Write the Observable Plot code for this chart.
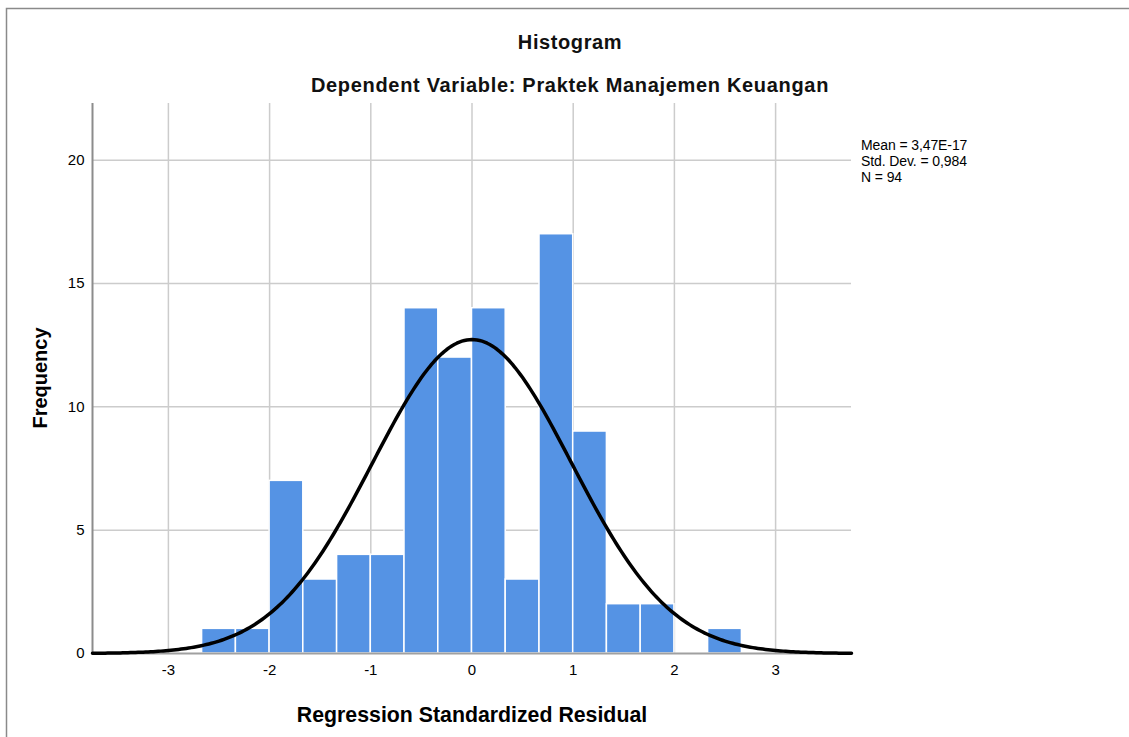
<!DOCTYPE html>
<html>
<head>
<meta charset="utf-8">
<script src="https://cdn.jsdelivr.net/npm/d3@7"></script>
<script src="https://cdn.jsdelivr.net/npm/@observablehq/plot@0.6"></script>
<style>
  html, body { margin: 0; padding: 0; background: #fff; }
  #chart { position: relative; width: 1129px; height: 737px; overflow: hidden; }
  svg text { font-family: "Liberation Sans", Arial, sans-serif; }
</style>
</head>
<body>
<div id="chart"></div>
<script>
// ---- data ----
const binLow  = [-2.667, -2.333, -2.0, -1.667, -1.333, -1.0, -0.667, -0.333, 0.0, 0.333, 0.667, 1.0, 1.333, 1.667, 2.0, 2.333];
const binHigh = [-2.333, -2.0, -1.667, -1.333, -1.0, -0.667, -0.333, 0.0, 0.333, 0.667, 1.0, 1.333, 1.667, 2.0, 2.333, 2.667];
const counts  = [1, 1, 7, 3, 4, 4, 14, 12, 14, 3, 17, 9, 2, 2, 0, 1];
const xTicks = [-3, -2, -1, 0, 1, 2, 3];
const yTicks = [0, 5, 10, 15, 20];
const meanVal = 3.47e-17;
const sdVal = 0.984;
const nVal = 94;
const statLabels = ["Mean = 3,47E-17", "Std. Dev. = 0,984", "N = 94"];
const titleText = "Histogram";
const subtitleText = "Dependent Variable: Praktek Manajemen Keuangan";
const xLabel = "Regression Standardized Residual";
const yLabel = "Frequency";

const bars = counts.map((c, i) => ({x1: binLow[i], x2: binHigh[i], y: c})).filter(d => d.y > 0);

// normal curve implied by the stated mean, sd and N (scaled by bin width)
const binWidth = binHigh[0] - binLow[0];
const xDomain = [-3.75, 3.75];
const curve = d3.range(0, 301).map(i => {
  const x = xDomain[0] + (xDomain[1] - xDomain[0]) * i / 300;
  const z = (x - meanVal) / sdVal;
  return {x, y: nVal * binWidth * Math.exp(-0.5 * z * z) / (sdVal * Math.sqrt(2 * Math.PI))};
});

const W = 1129, H = 737;
const plot = Plot.plot({
  width: W,
  height: H,
  marginLeft: 92,
  marginRight: W - 851,
  marginTop: 103,
  marginBottom: H - 653,
  style: {fontFamily: "Liberation Sans, Arial, sans-serif", fontSize: "15px", color: "#000", background: "#fff"},
  x: {domain: xDomain, label: null},
  y: {domain: [0, 22.3], label: null},
  marks: [
    Plot.ruleX(xTicks, {stroke: "#cccccc", strokeWidth: 1.5}),
    Plot.ruleY(yTicks.filter(d => d > 0), {stroke: "#cccccc", strokeWidth: 1.5}),
    Plot.rectY(bars, {x1: "x1", x2: "x2", y: "y", fill: "#5593e4", stroke: "#ffffff", strokeWidth: 1.5}),
    Plot.ruleY([0], {stroke: "#a0a0a0", strokeWidth: 2}),
    Plot.ruleX([xDomain[0]], {stroke: "#8c8c8c", strokeWidth: 2}),
    Plot.line(curve, {x: "x", y: "y", stroke: "#000", strokeWidth: 3.5}),
    Plot.axisX({ticks: xTicks, tickFormat: d => String(d), tickSize: 0, tickPadding: 11, fontSize: 15, label: null}),
    Plot.axisY({ticks: yTicks, tickFormat: d => String(d), tickSize: 0, tickPadding: 8, fontSize: 15, label: null})
  ]
});
document.getElementById("chart").appendChild(plot);

const svg = d3.select(plot);
svg.selectAll('g[aria-label$="tick label"]').attr("font-size", 15).selectAll("text").attr("font-size", 15);

// outer frame (partially cropped in the reference)
svg.append("path").attr("d", "M6.5,737 L6.5,8.5 L1129,8.5").attr("fill", "none").attr("stroke", "#8a8a8a").attr("stroke-width", 1.5);

svg.append("text").attr("x", 570).attr("y", 49).attr("text-anchor", "middle")
  .attr("font-size", 20).attr("font-weight", "bold").attr("letter-spacing", "0.6").attr("fill", "#111").text(titleText);
svg.append("text").attr("x", 570).attr("y", 92).attr("text-anchor", "middle")
  .attr("font-size", 20).attr("font-weight", "bold").attr("letter-spacing", "0.68").attr("fill", "#111").text(subtitleText);
svg.append("text").attr("x", 472).attr("y", 722).attr("text-anchor", "middle")
  .attr("font-size", 21.3).attr("font-weight", "bold").attr("fill", "#000").text(xLabel);
svg.append("text").attr("transform", "translate(47,378) rotate(-90)").attr("text-anchor", "middle")
  .attr("font-size", 20).attr("font-weight", "bold").attr("fill", "#000").text(yLabel);
statLabels.forEach((s, i) => {
  svg.append("text").attr("x", 861).attr("y", 150 + i * 16).attr("text-anchor", "start")
    .attr("font-size", 14).attr("letter-spacing", "-0.1").attr("fill", "#000").text(s);
});
</script>
</body>
</html>
